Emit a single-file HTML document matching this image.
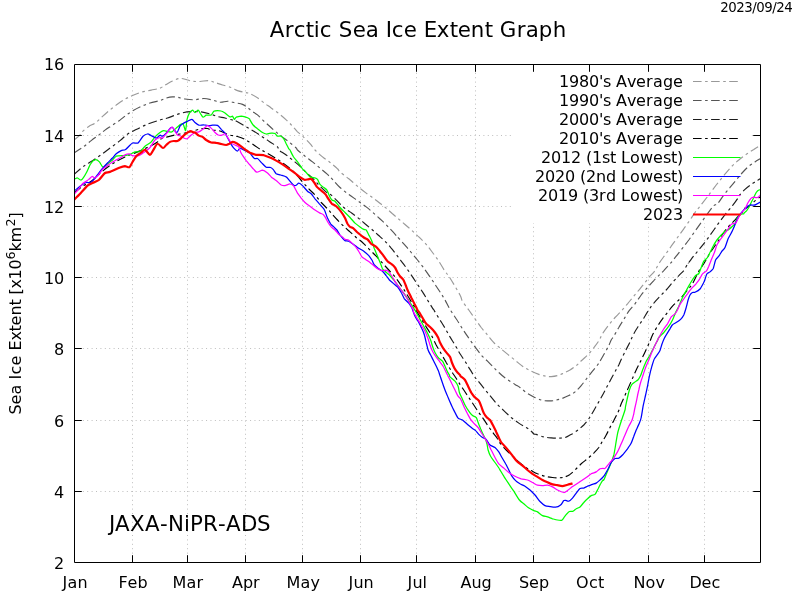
<!DOCTYPE html>
<html lang="en"><head><meta charset="utf-8"><title>Arctic Sea Ice Extent Graph</title>
<style>html,body{margin:0;padding:0;background:#fff;overflow:hidden}svg{display:block}svg{will-change:transform}text{font-family:"DejaVu Sans","Liberation Sans",sans-serif;fill:#000}</style></head><body>
<svg width="800" height="600" viewBox="0 0 800 600">
<rect width="800" height="600" fill="#fff"/>
<path d="M132.5,64V562M187.5,64V562M245.5,64V562M302.5,64V562M360.5,64V562M416.5,64V562M475.5,64V562M533.5,64V562M589.5,64V562M648.5,64V562M704.5,64V562M74,135.5H760M74,206.5H760M74,277.5H760M74,348.5H760M74,420.5H760M74,491.5H760" fill="none" stroke="#bebebe" stroke-width="1" stroke-dasharray="1 3.402"/>
<rect x="511" y="65" width="239.5" height="158" fill="#fff"/>
<clipPath id="pc"><rect x="75" y="65" width="685" height="497"/></clipPath><g clip-path="url(#pc)">
<path d="M74.0,140.0C74.9,139.3 78.1,136.9 79.4,135.6C80.7,134.3 80.3,133.5 81.9,132.0C83.5,130.5 86.6,127.9 88.8,126.4C90.9,124.9 92.9,124.7 95.0,123.2C97.1,121.8 99.2,119.5 101.2,117.6C103.3,115.7 105.0,114.1 107.5,112.0C110.0,109.9 113.3,107.2 116.2,105.1C119.2,103.0 122.3,100.8 125.0,99.2C127.7,97.7 129.8,96.7 132.5,95.5C135.2,94.3 138.1,93.2 141.2,92.2C144.4,91.3 148.1,90.8 151.2,90.1C154.4,89.4 157.5,89.0 160.0,88.1C162.5,87.1 164.2,85.6 166.2,84.4C168.3,83.2 170.2,82.0 172.5,81.0C174.8,80.0 177.6,78.6 180.0,78.4C182.4,78.2 184.8,79.3 186.9,79.8C189.0,80.2 190.3,81.0 192.5,81.2C194.7,81.5 197.3,81.6 200.0,81.5C202.7,81.4 206.2,80.4 208.8,80.6C211.2,80.8 212.7,81.8 215.0,82.5C217.3,83.2 219.8,84.2 222.5,85.0C225.2,85.8 228.8,86.6 231.2,87.5C233.8,88.4 235.2,89.8 237.5,90.6C239.8,91.4 242.9,92.0 245.0,92.5C247.1,93.0 247.9,92.7 250.0,93.6C252.1,94.5 255.0,96.1 257.5,97.8C260.0,99.4 262.7,101.9 265.0,103.6C267.3,105.3 269.0,106.3 271.2,108.0C273.5,109.7 276.2,111.6 278.8,113.6C281.2,115.6 284.0,117.8 286.2,119.9C288.5,122.0 290.6,124.1 292.5,126.1C294.4,128.1 295.8,130.1 297.5,131.8C299.2,133.4 300.4,134.1 302.5,136.1C304.6,138.1 307.9,141.3 310.0,143.6C312.1,145.9 312.9,147.8 315.0,150.0C317.1,152.2 320.0,154.8 322.5,156.9C325.0,159.0 327.5,160.5 330.0,162.5C332.5,164.5 335.8,167.2 337.5,168.8C339.2,170.3 338.1,170.2 340.0,171.9C341.9,173.6 345.8,176.4 348.8,178.8C351.7,181.1 354.6,183.9 357.5,186.2C360.4,188.6 363.3,190.9 366.2,193.1C369.2,195.3 372.1,197.2 375.0,199.4C377.9,201.6 380.8,203.9 383.8,206.2C386.7,208.6 389.6,211.2 392.5,213.8C395.4,216.2 398.3,218.8 401.2,221.2C404.2,223.8 407.4,226.5 410.0,228.8C412.6,231.0 415.1,233.6 416.6,235.0C418.1,236.4 417.1,235.3 418.8,236.9C420.4,238.5 424.0,241.8 426.2,244.4C428.5,247.0 430.4,249.7 432.5,252.5C434.6,255.3 436.7,258.1 438.8,261.2C440.8,264.4 443.1,268.5 445.0,271.2C446.9,274.0 447.5,274.0 450.0,278.0C452.5,282.0 457.9,291.1 460.0,295.0C462.1,298.9 461.0,298.8 462.5,301.2C464.0,303.8 466.7,307.1 468.8,310.0C470.8,312.9 472.9,315.8 475.0,318.8C477.1,321.7 479.2,324.8 481.2,327.5C483.3,330.2 485.6,332.7 487.5,335.0C489.4,337.3 491.2,339.8 492.5,341.2C493.8,342.7 493.8,342.6 495.0,343.8C496.2,344.9 496.5,345.1 500.0,348.0C503.5,350.9 512.2,358.0 516.0,361.0C519.8,364.0 520.2,364.6 522.5,366.2C524.8,367.9 527.3,369.2 530.0,370.6C532.7,372.0 536.0,373.5 538.8,374.4C541.5,375.3 544.2,375.9 546.2,376.2C548.3,376.6 549.4,376.7 551.2,376.6C553.1,376.5 555.4,376.2 557.5,375.6C559.6,375.0 561.7,374.0 563.8,373.1C565.8,372.2 567.9,371.2 570.0,370.0C572.1,368.8 574.6,366.9 576.2,365.6C577.9,364.3 578.5,363.4 580.0,362.0C581.5,360.6 583.3,359.1 585.0,357.5C586.7,355.9 588.3,354.4 590.0,352.5C591.7,350.6 593.4,348.3 595.0,346.2C596.6,344.2 598.1,342.1 599.4,340.0C600.6,337.9 600.9,336.2 602.5,333.8C604.1,331.2 606.7,327.7 608.8,325.0C610.8,322.3 612.9,319.8 615.0,317.5C617.1,315.2 619.2,313.5 621.2,311.2C623.3,309.0 625.4,306.2 627.5,303.8C629.6,301.2 631.7,298.8 633.8,296.2C635.8,293.8 638.1,291.0 640.0,288.8C641.9,286.5 643.3,284.6 645.0,282.5C646.7,280.4 648.3,278.2 650.0,276.2C651.7,274.3 653.5,272.7 655.0,270.6C656.5,268.5 657.1,266.4 658.8,263.8C660.4,261.1 662.9,257.9 665.0,255.0C667.1,252.1 669.2,249.2 671.2,246.2C673.3,243.3 675.4,240.4 677.5,237.5C679.6,234.6 681.7,231.7 683.8,228.8C685.8,225.8 688.1,222.7 690.0,220.0C691.9,217.3 693.3,214.8 695.0,212.5C696.7,210.2 698.1,208.7 700.0,206.2C701.9,203.8 704.9,199.9 706.4,198.0C707.9,196.1 707.1,197.2 708.8,195.0C710.4,192.8 713.8,188.2 716.2,185.0C718.8,181.8 721.2,178.6 723.8,175.6C726.2,172.6 728.8,169.5 731.2,166.9C733.8,164.3 736.2,162.1 738.8,160.0C741.2,157.9 743.8,156.2 746.2,154.4C748.8,152.6 751.5,150.9 753.8,149.4C756.0,147.9 759.0,146.2 760.0,145.6" fill="none" stroke="#999999" stroke-width="1.15" stroke-linejoin="round" stroke-dasharray="8.6 3.5 2.6 3.4"/>
<path d="M74.0,153.0C75.4,152.1 79.6,149.6 82.5,147.5C85.4,145.4 88.5,142.7 91.2,140.6C94.0,138.5 96.5,136.8 98.8,135.1C101.0,133.3 102.7,131.8 105.0,130.1C107.3,128.4 110.0,126.8 112.5,125.1C115.0,123.4 117.7,121.8 120.0,120.1C122.3,118.4 124.2,116.6 126.2,115.1C128.3,113.6 130.0,112.5 132.5,111.0C135.0,109.5 138.3,107.7 141.2,106.4C144.2,105.1 146.9,104.0 150.0,103.0C153.1,102.0 157.3,101.4 160.0,100.6C162.7,99.8 164.2,98.7 166.2,98.1C168.3,97.5 170.6,97.0 172.5,96.9C174.4,96.8 175.4,96.9 177.5,97.2C179.6,97.6 182.3,98.6 185.0,99.0C187.7,99.4 190.6,99.8 193.8,99.8C196.9,99.7 200.6,98.5 203.8,98.5C206.9,98.5 209.8,99.4 212.5,100.0C215.2,100.6 217.5,102.0 220.0,102.2C222.5,102.5 225.0,101.2 227.5,101.2C230.0,101.3 232.5,102.2 235.0,102.8C237.5,103.3 240.4,103.6 242.5,104.4C244.6,105.2 245.9,106.4 247.5,107.5C249.1,108.6 250.2,109.9 251.9,111.1C253.6,112.3 255.7,113.4 257.5,114.9C259.3,116.4 260.6,118.1 262.5,119.9C264.4,121.7 266.7,123.6 268.8,125.5C270.8,127.4 272.9,129.3 275.0,131.1C277.1,132.9 279.0,134.3 281.2,136.1C283.5,137.9 286.2,139.8 288.8,141.8C291.2,143.7 294.8,146.6 296.2,148.0C297.7,149.4 296.0,148.6 297.5,150.0C299.0,151.4 302.5,154.3 305.0,156.2C307.5,158.2 310.0,159.9 312.5,161.9C315.0,163.9 317.5,166.0 320.0,168.1C322.5,170.2 325.4,172.5 327.5,174.4C329.6,176.3 330.4,177.2 332.5,179.4C334.6,181.6 337.3,185.0 340.0,187.5C342.7,190.0 345.8,192.2 348.8,194.4C351.7,196.6 354.6,198.5 357.5,200.6C360.4,202.7 363.3,204.6 366.2,206.9C369.2,209.2 372.3,212.0 375.0,214.4C377.7,216.8 380.0,218.9 382.5,221.2C385.0,223.6 387.7,226.4 390.0,228.8C392.3,231.1 395.1,234.3 396.2,235.6C397.4,236.8 395.6,234.9 396.9,236.2C398.1,237.6 401.4,241.0 403.8,243.8C406.1,246.5 409.0,249.8 411.2,252.5C413.5,255.2 415.4,257.4 417.5,260.0C419.6,262.6 421.7,265.3 423.8,268.1C425.8,270.9 427.9,273.9 430.0,276.9C432.1,279.9 434.4,283.4 436.2,286.2C438.1,289.1 439.8,291.5 441.2,293.8C442.7,296.0 443.5,297.4 445.0,300.0C446.5,302.6 448.1,306.3 450.0,309.4C451.9,312.5 454.2,315.5 456.2,318.8C458.3,322.0 460.4,325.5 462.5,328.8C464.6,332.0 466.7,335.1 468.8,338.1C470.8,341.1 472.9,344.1 475.0,346.9C477.1,349.7 479.2,352.6 481.2,355.0C483.3,357.4 485.4,359.2 487.5,361.2C489.6,363.3 491.9,365.6 493.8,367.5C495.6,369.4 496.7,370.6 498.8,372.5C500.8,374.4 503.5,376.8 506.2,378.8C509.0,380.7 512.7,382.9 515.0,384.4C517.3,385.9 518.1,386.1 520.0,387.5C521.9,388.9 524.0,390.9 526.2,392.5C528.5,394.1 531.2,395.6 533.8,396.9C536.2,398.1 539.0,399.3 541.2,400.0C543.5,400.7 545.4,400.8 547.5,400.9C549.6,401.0 551.5,401.0 553.8,400.6C556.0,400.2 558.8,399.6 561.2,398.8C563.8,397.9 566.5,396.7 568.8,395.6C571.0,394.5 572.9,393.6 575.0,391.9C577.1,390.2 579.2,388.0 581.2,385.6C583.3,383.2 585.6,379.9 587.5,377.5C589.4,375.1 590.8,373.3 592.5,371.2C594.2,369.2 596.2,366.7 597.5,365.0C598.8,363.3 598.8,363.3 600.0,361.2C601.2,359.2 603.5,355.1 605.0,352.5C606.5,349.9 607.7,347.7 608.8,345.6C609.8,343.5 610.4,341.6 611.2,340.0C612.1,338.4 612.5,338.3 613.8,336.2C615.0,334.2 617.1,330.3 618.8,327.5C620.4,324.7 622.1,322.1 623.8,319.4C625.4,316.7 626.9,313.9 628.8,311.2C630.6,308.6 632.9,306.5 635.0,303.8C637.1,301.0 639.2,297.7 641.2,295.0C643.3,292.3 645.4,289.9 647.5,287.5C649.6,285.1 651.7,282.8 653.8,280.6C655.8,278.4 658.3,276.1 660.0,274.4C661.7,272.7 662.1,272.4 663.8,270.6C665.4,268.8 667.9,266.1 670.0,263.8C672.1,261.4 674.2,258.9 676.2,256.2C678.3,253.6 680.4,250.8 682.5,248.1C684.6,245.4 686.7,242.8 688.8,240.0C690.8,237.2 692.9,234.2 695.0,231.2C697.1,228.3 699.2,225.4 701.2,222.5C703.3,219.6 705.4,216.6 707.5,213.8C709.6,210.9 712.1,207.3 713.8,205.6C715.4,203.9 715.8,205.5 717.5,203.8C719.2,202.0 721.7,197.7 723.8,195.0C725.8,192.3 727.9,190.0 730.0,187.5C732.1,185.0 734.2,182.5 736.2,180.0C738.3,177.5 740.4,174.8 742.5,172.5C744.6,170.2 746.7,168.0 748.8,166.2C750.8,164.5 753.1,163.2 755.0,161.9C756.9,160.7 759.2,159.3 760.0,158.8" fill="none" stroke="#555555" stroke-width="1.15" stroke-linejoin="round" stroke-dasharray="8.6 3.5 2.6 3.4"/>
<path d="M74.0,174.4C75.6,173.0 80.2,168.8 83.8,166.2C87.2,163.7 91.0,161.7 95.0,159.0C99.0,156.3 103.3,153.1 107.5,150.0C111.7,146.9 116.8,143.2 120.0,140.6C123.2,138.0 124.8,136.0 126.9,134.5C129.0,133.0 130.1,132.7 132.5,131.4C134.9,130.2 138.3,128.4 141.2,127.0C144.2,125.6 146.9,124.4 150.0,123.2C153.1,122.1 157.1,120.9 160.0,120.0C162.9,119.1 165.0,118.8 167.5,118.0C170.0,117.2 172.5,116.1 175.0,115.2C177.5,114.4 179.8,113.4 182.5,112.8C185.2,112.1 188.1,111.7 191.2,111.6C194.4,111.5 198.1,111.5 201.2,111.9C204.4,112.3 207.3,113.2 210.0,114.0C212.7,114.8 215.0,115.8 217.5,116.5C220.0,117.2 222.5,117.4 225.0,118.0C227.5,118.6 230.8,119.6 232.5,120.0C234.2,120.4 232.9,119.5 235.0,120.5C237.1,121.5 241.9,124.5 245.0,126.2C248.1,128.0 250.8,129.5 253.8,131.2C256.7,133.0 259.8,135.1 262.5,136.9C265.2,138.7 267.5,140.2 270.0,141.9C272.5,143.6 276.0,145.6 277.5,146.9C279.0,148.2 277.3,148.7 278.8,150.0C280.2,151.3 284.0,153.3 286.2,155.0C288.5,156.7 290.2,158.1 292.5,160.0C294.8,161.9 297.7,164.2 300.0,166.2C302.3,168.3 304.0,170.3 306.2,172.5C308.5,174.7 311.5,177.1 313.8,179.4C316.0,181.7 317.7,184.0 320.0,186.2C322.3,188.5 325.6,191.6 327.5,193.1C329.4,194.6 329.6,193.6 331.2,195.0C332.9,196.4 335.4,199.2 337.5,201.2C339.6,203.3 341.7,205.7 343.8,207.5C345.8,209.3 347.7,210.2 350.0,211.9C352.3,213.6 355.0,215.5 357.5,217.5C360.0,219.5 362.5,221.7 365.0,223.8C367.5,225.8 370.3,228.1 372.5,230.0C374.7,231.9 376.0,233.1 378.1,235.0C380.2,236.9 382.8,239.1 385.0,241.2C387.2,243.4 389.2,245.6 391.2,248.1C393.3,250.6 395.4,253.5 397.5,256.2C399.6,259.0 401.7,261.6 403.8,264.4C405.8,267.2 407.9,270.1 410.0,273.1C412.1,276.1 414.2,279.4 416.2,282.5C418.3,285.6 420.6,289.0 422.5,291.9C424.4,294.8 425.8,297.3 427.5,300.0C429.2,302.7 431.4,306.4 432.5,308.1C433.6,309.8 433.6,309.4 434.0,310.0C434.4,310.6 434.0,310.2 435.0,311.9C436.0,313.6 438.3,317.3 440.0,320.0C441.7,322.7 443.3,325.3 445.0,328.1C446.7,330.9 448.3,334.1 450.0,336.9C451.7,339.7 453.3,342.2 455.0,345.0C456.7,347.8 458.3,351.0 460.0,353.8C461.7,356.5 463.3,358.6 465.0,361.2C466.7,363.9 468.6,367.2 470.0,369.4C471.4,371.6 472.2,373.0 473.1,374.4C474.0,375.8 474.7,377.1 475.4,378.0C476.1,378.9 476.1,378.3 477.5,380.0C478.9,381.7 481.7,385.5 483.8,388.1C485.8,390.7 487.9,393.1 490.0,395.6C492.1,398.1 494.0,400.6 496.2,403.1C498.5,405.6 501.2,408.2 503.8,410.6C506.2,413.0 508.8,415.4 511.2,417.5C513.8,419.6 516.5,421.5 518.8,423.1C521.0,424.7 523.1,425.8 525.0,426.9C526.9,428.0 528.5,428.8 530.0,430.0C531.5,431.2 533.0,433.3 534.0,434.0C535.0,434.7 534.6,433.9 536.2,434.4C537.9,434.9 541.2,436.3 543.8,436.9C546.2,437.5 548.8,437.7 551.2,437.9C553.8,438.1 556.5,438.2 558.8,438.1C561.0,438.0 563.1,438.0 565.0,437.5C566.9,437.0 568.8,435.6 570.0,435.0C571.2,434.4 571.0,434.7 572.5,433.8C574.0,432.8 576.9,430.9 578.8,429.4C580.6,427.9 582.3,426.5 583.8,425.0C585.2,423.5 586.2,422.3 587.5,420.6C588.8,418.9 589.8,417.4 591.2,415.0C592.7,412.6 594.6,409.2 596.2,406.2C597.9,403.3 599.6,400.5 601.2,397.5C602.9,394.5 604.6,391.2 606.2,388.1C607.9,385.0 609.6,381.9 611.2,378.8C612.9,375.6 615.0,371.7 616.2,369.4C617.5,367.1 617.9,366.7 618.8,365.0C619.6,363.3 620.0,362.0 621.2,359.4C622.5,356.8 624.8,352.3 626.2,349.4C627.7,346.5 628.8,344.5 630.0,341.9C631.2,339.3 632.3,336.5 633.8,333.8C635.2,331.0 637.1,328.2 638.8,325.6C640.4,323.0 642.1,320.7 643.8,318.1C645.4,315.5 647.1,312.5 648.8,310.0C650.4,307.5 651.9,305.4 653.8,303.1C655.6,300.8 657.9,298.4 660.0,296.2C662.1,294.1 664.2,292.3 666.2,290.0C668.3,287.7 670.4,284.9 672.5,282.5C674.6,280.1 676.9,277.6 678.8,275.6C680.6,273.6 682.2,272.7 683.8,270.6C685.3,268.5 687.2,264.4 688.0,263.0C688.8,261.6 687.6,263.9 688.8,262.5C689.9,261.1 692.9,257.0 695.0,254.4C697.1,251.8 699.2,249.5 701.2,246.9C703.3,244.3 705.4,241.6 707.5,238.8C709.6,235.9 711.7,232.9 713.8,230.0C715.8,227.1 717.9,224.1 720.0,221.2C722.1,218.4 724.2,215.7 726.2,213.1C728.3,210.5 730.5,208.1 732.5,205.6C734.5,203.1 737.0,199.6 738.0,198.0C739.0,196.4 737.6,197.7 738.8,196.2C739.9,194.8 742.9,191.4 745.0,189.4C747.1,187.4 749.4,185.8 751.2,184.4C753.1,183.0 754.8,182.2 756.2,181.2C757.7,180.3 759.4,179.2 760.0,178.8" fill="none" stroke="#1c1c1c" stroke-width="1.15" stroke-linejoin="round" stroke-dasharray="8.6 3.5 2.6 3.4"/>
<path d="M74.0,193.0C75.4,191.9 79.6,188.2 82.5,186.2C85.4,184.3 87.9,183.8 91.2,181.2C94.6,178.8 98.8,174.3 102.5,171.2C106.2,168.2 110.0,165.4 113.8,163.0C117.5,160.6 121.0,158.8 125.0,156.9C129.0,155.1 133.3,153.7 137.5,151.9C141.7,150.1 146.7,147.9 150.0,146.2C153.3,144.6 155.8,143.0 157.5,141.9C159.2,140.8 158.3,140.2 160.0,139.4C161.7,138.6 165.0,137.6 167.5,136.9C170.0,136.2 172.1,135.7 175.0,135.0C177.9,134.3 182.1,133.6 185.0,133.0C187.9,132.4 189.8,132.0 192.5,131.2C195.2,130.5 198.8,129.2 201.2,128.8C203.8,128.3 205.8,128.3 207.5,128.5C209.2,128.7 209.2,129.6 211.2,130.0C213.3,130.4 217.1,130.2 220.0,131.0C222.9,131.8 225.8,133.8 228.8,134.8C231.7,135.7 234.8,135.7 237.5,136.5C240.2,137.3 242.3,138.0 245.0,139.4C247.7,140.8 251.0,143.2 253.8,145.0C256.5,146.8 259.6,149.0 261.2,150.0C262.9,151.0 261.9,150.2 263.8,151.2C265.6,152.3 269.6,154.5 272.5,156.2C275.4,158.0 278.5,160.0 281.2,161.9C284.0,163.8 286.2,165.4 288.8,167.5C291.2,169.6 294.0,172.0 296.2,174.4C298.5,176.8 300.4,179.5 302.5,181.9C304.6,184.3 306.7,186.6 308.8,188.8C310.8,190.9 312.9,192.7 315.0,195.0C317.1,197.3 319.2,200.2 321.2,202.5C323.3,204.8 325.8,207.0 327.5,208.8C329.2,210.5 329.6,211.2 331.2,213.1C332.9,215.0 335.4,217.8 337.5,220.0C339.6,222.2 341.7,224.3 343.8,226.2C345.8,228.2 347.9,230.0 350.0,231.9C352.1,233.8 354.2,235.7 356.2,237.5C358.3,239.3 360.4,240.6 362.5,242.5C364.6,244.4 366.5,246.5 368.8,248.8C371.0,251.0 374.0,253.9 376.2,256.2C378.5,258.6 380.4,260.8 382.5,263.1C384.6,265.4 386.7,267.7 388.8,270.0C390.8,272.3 393.1,274.6 395.0,276.9C396.9,279.2 398.3,281.4 400.0,283.8C401.7,286.1 403.5,289.0 405.0,291.2C406.5,293.5 407.5,295.4 408.8,297.5C410.0,299.6 411.4,301.9 412.5,303.8C413.6,305.6 415.0,307.6 415.6,308.8C416.2,309.9 415.3,308.9 416.2,310.6C417.2,312.3 419.6,316.0 421.2,318.8C422.9,321.5 424.6,324.2 426.2,326.9C427.9,329.6 429.6,332.0 431.2,335.0C432.9,338.0 434.6,341.9 436.2,345.0C437.9,348.1 439.6,350.8 441.2,353.8C442.9,356.7 444.8,360.0 446.2,362.5C447.7,365.0 448.9,366.9 450.0,368.8C451.1,370.6 452.1,372.2 453.1,373.8C454.1,375.3 455.1,376.5 456.0,378.0C456.9,379.5 457.5,380.5 458.8,382.5C460.0,384.5 462.1,387.5 463.8,390.0C465.4,392.5 467.1,395.0 468.8,397.5C470.4,400.0 472.1,402.5 473.8,405.0C475.4,407.5 477.1,410.1 478.8,412.5C480.4,414.9 482.1,417.0 483.8,419.4C485.4,421.8 487.1,424.5 488.8,426.9C490.4,429.3 492.3,431.8 493.8,433.8C495.2,435.7 496.5,437.2 497.5,438.8C498.5,440.3 498.5,441.2 500.0,443.1C501.5,445.0 504.2,447.8 506.2,450.0C508.3,452.2 510.4,454.3 512.5,456.2C514.6,458.2 516.7,460.1 518.8,461.9C520.8,463.7 522.9,465.4 525.0,466.9C527.1,468.3 529.2,469.5 531.2,470.6C533.3,471.7 535.2,472.8 537.5,473.8C539.8,474.7 542.5,475.6 545.0,476.2C547.5,476.9 550.0,477.2 552.5,477.5C555.0,477.8 557.9,477.9 560.0,477.8C562.1,477.6 563.3,477.5 565.0,476.9C566.7,476.3 568.3,475.5 570.0,474.4C571.7,473.2 573.1,471.8 575.0,470.0C576.9,468.2 579.2,465.6 581.2,463.8C583.3,461.9 585.4,460.5 587.5,458.8C589.6,457.0 591.9,455.0 593.8,453.1C595.6,451.2 597.3,449.5 598.8,447.5C600.2,445.5 601.2,443.3 602.5,441.2C603.8,439.2 605.0,437.3 606.2,435.0C607.5,432.7 608.8,429.9 610.0,427.5C611.2,425.1 612.6,422.8 613.8,420.6C614.9,418.4 616.0,416.2 616.9,414.4C617.8,412.6 618.3,411.8 619.0,410.0C619.7,408.2 620.0,406.7 621.2,403.8C622.5,400.8 624.6,396.2 626.2,392.5C627.9,388.8 629.6,385.0 631.2,381.2C632.9,377.5 634.6,373.5 636.2,370.0C637.9,366.5 639.6,363.4 641.2,360.0C642.9,356.6 644.8,352.5 646.2,349.4C647.7,346.3 649.0,343.6 650.0,341.2C651.0,338.9 651.2,337.5 652.5,335.0C653.8,332.5 655.8,329.0 657.5,326.2C659.2,323.5 660.8,321.0 662.5,318.8C664.2,316.5 665.8,314.6 667.5,312.5C669.2,310.4 670.8,308.1 672.5,306.2C674.2,304.4 675.8,302.9 677.5,301.2C679.2,299.6 680.8,298.1 682.5,296.2C684.2,294.4 685.8,292.1 687.5,290.0C689.2,287.9 690.6,286.9 692.5,283.8C694.4,280.6 696.9,274.6 698.8,271.2C700.6,267.9 702.1,266.5 703.8,263.8C705.4,261.0 707.1,257.7 708.8,255.0C710.4,252.3 712.1,250.0 713.8,247.5C715.4,245.0 717.1,242.5 718.8,240.0C720.4,237.5 722.1,234.8 723.8,232.5C725.4,230.2 727.1,228.1 728.8,226.2C730.4,224.4 732.1,223.0 733.8,221.2C735.4,219.5 737.1,217.3 738.8,215.6C740.4,213.9 742.7,212.5 743.8,211.2C744.8,210.0 744.3,208.7 745.0,208.0C745.7,207.3 746.5,208.0 748.0,207.0C749.5,206.0 751.8,203.6 753.8,201.9C755.8,200.2 759.0,197.7 760.0,196.9" fill="none" stroke="#000000" stroke-width="1.15" stroke-linejoin="round" stroke-dasharray="8.6 3.5 2.6 3.4"/>
<path d="M74.0,179.4C74.4,179.2 76.7,177.9 77.5,178.0C78.3,178.1 80.2,180.6 81.2,180.0C82.3,179.4 85.2,174.9 86.2,173.0C87.3,171.1 89.6,165.3 90.6,163.8C91.6,162.2 94.0,160.0 95.0,159.8C96.0,159.5 98.5,161.0 99.4,161.9C100.3,162.8 102.1,167.0 103.0,167.2C103.9,167.5 106.4,164.6 107.5,163.8C108.6,162.9 111.5,160.9 112.5,160.0C113.5,159.1 114.8,156.8 116.2,156.2C117.7,155.7 123.4,155.8 125.0,155.6C126.6,155.4 128.8,154.8 130.0,154.4C131.2,154.0 133.8,152.2 135.0,151.9C136.2,151.6 138.8,152.2 140.0,151.5C141.2,150.8 143.8,147.3 145.0,146.2C146.2,145.2 149.4,143.6 150.6,142.5C151.8,141.4 153.9,138.1 155.0,136.9C156.1,135.7 159.0,133.2 160.0,132.5C161.0,131.8 162.9,130.7 163.8,130.6C164.6,130.5 166.5,131.3 167.5,131.5C168.5,131.7 170.9,132.3 171.9,131.9C172.9,131.5 175.2,129.0 176.2,128.1C177.3,127.2 179.8,124.9 180.6,124.4C181.4,123.9 182.5,123.0 183.1,123.8C183.7,124.5 185.2,131.0 185.6,130.6C186.0,130.2 186.5,122.0 186.9,120.0C187.3,118.0 188.7,114.2 189.4,113.1C190.1,112.0 191.8,110.3 192.5,110.2C193.2,110.2 194.3,112.5 195.0,112.5C195.7,112.5 197.4,110.1 198.1,110.2C198.8,110.4 200.0,112.9 200.6,113.8C201.2,114.6 202.4,117.1 203.1,117.2C203.8,117.4 205.3,115.5 206.2,115.2C207.2,115.0 210.4,115.5 211.2,115.0C212.1,114.5 213.0,111.8 213.8,111.2C214.5,110.7 216.6,110.6 217.5,110.6C218.4,110.6 220.4,110.7 221.2,111.0C222.1,111.3 224.0,112.4 225.0,113.1C226.0,113.8 229.1,116.5 230.0,116.9C230.9,117.3 232.0,116.0 232.5,116.2C233.0,116.5 234.0,119.3 234.4,119.4C234.8,119.5 235.5,117.6 236.2,117.2C237.0,116.9 240.2,116.3 241.2,116.2C242.3,116.2 244.0,116.6 245.0,116.9C246.0,117.2 248.8,118.4 249.4,118.8C250.0,119.1 249.6,119.3 250.0,120.0C250.4,120.7 252.2,124.0 253.1,125.0C254.0,126.0 256.4,127.9 257.5,128.8C258.6,129.6 261.5,131.9 262.5,132.5C263.5,133.1 265.2,133.9 266.2,134.0C267.3,134.1 270.2,133.2 271.2,133.1C272.3,133.0 274.3,133.1 275.0,133.5C275.7,133.9 276.8,136.0 277.5,136.2C278.2,136.5 279.9,135.7 280.6,136.0C281.3,136.3 283.1,137.8 283.8,138.8C284.4,139.7 285.7,142.6 286.2,143.8C286.8,144.9 288.3,148.0 288.8,148.8C289.2,149.5 289.5,149.1 290.0,150.0C290.5,150.9 292.2,154.8 293.1,156.2C294.0,157.7 297.0,161.0 298.1,162.5C299.2,164.0 301.5,167.6 302.5,168.8C303.5,169.9 305.4,171.5 306.2,172.5C307.1,173.5 309.0,176.3 310.0,176.9C311.0,177.5 314.1,177.5 315.0,177.8C315.9,178.0 316.9,178.6 317.5,179.4C318.1,180.2 319.3,183.5 320.0,184.4C320.7,185.3 322.9,186.8 323.8,187.5C324.6,188.2 326.3,189.2 326.9,190.0C327.5,190.8 328.2,193.2 328.8,194.4C329.3,195.6 331.2,199.2 331.9,200.0C332.6,200.8 334.1,200.4 335.0,201.2C335.9,202.1 338.8,206.2 340.0,207.5C341.2,208.8 343.8,211.3 345.0,212.5C346.2,213.7 348.8,216.3 350.0,217.5C351.2,218.7 353.8,222.0 355.0,223.1C356.2,224.2 359.0,226.2 360.0,226.9C361.0,227.6 363.0,229.0 363.8,229.4C364.5,229.8 365.7,229.3 366.2,230.0C366.8,230.7 368.4,234.3 368.8,235.0C369.1,235.7 369.0,235.3 369.4,236.0C369.8,236.7 371.3,239.8 371.9,241.2C372.5,242.7 373.7,247.0 374.4,248.8C375.1,250.5 376.8,254.5 377.5,256.2C378.2,258.0 380.0,262.3 380.6,263.8C381.2,265.2 382.0,267.9 382.5,268.8C383.0,269.6 384.2,270.5 385.0,271.2C385.8,272.0 388.4,274.0 389.4,275.0C390.4,276.0 392.8,278.8 393.8,280.0C394.7,281.2 396.6,283.8 397.5,285.0C398.4,286.2 400.4,288.8 401.2,290.0C402.1,291.2 404.1,293.8 405.0,295.0C405.9,296.2 407.9,299.3 408.8,300.6C409.6,301.9 411.8,305.2 412.5,306.2C413.2,307.3 414.0,308.7 414.4,309.4C414.8,310.1 415.6,311.3 416.2,312.5C416.9,313.7 419.1,317.8 420.0,319.4C420.9,321.0 422.9,324.7 423.8,326.2C424.6,327.8 426.7,331.5 427.5,333.1C428.3,334.7 430.0,338.5 430.6,340.0C431.2,341.5 432.0,344.8 432.5,346.2C433.0,347.7 434.3,351.2 435.0,352.5C435.7,353.8 437.2,356.5 438.1,357.5C439.0,358.5 441.7,360.2 442.5,361.2C443.3,362.3 444.4,365.0 445.0,366.2C445.6,367.5 447.0,370.9 447.5,371.9C448.0,372.9 449.1,374.4 449.4,375.0C449.7,375.6 449.3,376.2 450.0,376.9C450.7,377.6 454.1,380.2 455.0,381.2C455.9,382.3 457.6,384.9 458.1,386.2C458.6,387.6 459.0,391.1 459.4,392.5C459.8,393.9 461.2,396.6 461.9,398.1C462.6,399.6 464.2,403.5 465.0,405.0C465.8,406.5 467.9,410.0 468.8,411.2C469.6,412.5 471.6,414.9 472.5,415.6C473.4,416.3 475.6,416.7 476.2,417.5C476.9,418.3 477.6,421.2 478.1,422.5C478.6,423.8 480.0,427.4 480.6,428.8C481.2,430.1 482.5,433.2 483.1,434.4C483.7,435.6 485.1,438.3 485.6,439.4C486.1,440.5 486.7,442.8 487.0,444.0C487.3,445.2 487.7,448.6 488.1,450.0C488.5,451.4 489.8,454.8 490.6,456.2C491.4,457.7 494.0,461.0 495.0,462.5C496.0,464.0 498.4,467.1 499.4,468.8C500.4,470.4 502.7,474.5 503.8,476.2C504.8,478.0 507.6,482.0 508.8,483.8C509.9,485.5 512.5,489.4 513.8,491.2C515.0,493.1 518.2,498.5 519.4,500.0C520.6,501.5 522.7,502.9 523.8,503.8C524.8,504.6 526.9,506.7 528.1,507.5C529.3,508.3 532.7,510.1 533.8,510.6C534.8,511.1 536.5,511.3 537.5,511.9C538.5,512.5 541.3,515.0 542.5,515.6C543.7,516.2 546.3,516.5 547.5,516.9C548.7,517.3 551.3,518.4 552.5,518.8C553.7,519.1 556.4,519.8 557.5,520.0C558.6,520.2 561.1,520.6 561.9,520.2C562.7,519.9 563.8,517.7 564.4,516.9C565.0,516.1 566.3,514.4 566.9,513.8C567.5,513.1 568.7,511.8 569.4,511.5C570.1,511.2 572.3,511.6 573.1,511.2C573.9,510.9 575.4,509.3 576.2,508.8C577.1,508.2 579.1,507.6 580.0,506.9C580.9,506.2 582.9,503.5 583.8,502.5C584.6,501.5 586.6,499.6 587.5,498.8C588.4,497.9 590.4,496.1 591.2,495.6C592.1,495.1 594.2,495.2 595.0,494.4C595.8,493.6 597.4,490.0 598.1,488.8C598.8,487.5 600.0,484.8 600.6,483.8C601.2,482.7 602.7,480.4 603.1,480.0C603.5,479.6 603.2,481.0 603.8,480.0C604.3,479.0 606.6,473.3 607.5,471.2C608.4,469.2 610.5,464.4 611.2,462.5C612.0,460.6 613.2,457.0 613.8,455.0C614.3,453.0 615.2,447.5 615.6,445.0C616.0,442.5 617.0,436.1 617.5,433.8C618.0,431.4 619.4,426.9 620.0,425.0C620.6,423.1 621.9,419.2 622.5,417.5C623.1,415.8 624.6,411.3 625.0,410.0C625.4,408.7 625.3,407.7 625.6,406.2C625.9,404.8 627.1,399.4 627.5,397.5C627.9,395.6 628.9,391.5 629.4,390.0C629.9,388.5 631.2,385.3 631.9,384.4C632.6,383.5 634.3,382.4 635.0,381.9C635.7,381.4 637.4,380.5 638.1,379.8C638.8,379.0 640.0,376.9 640.6,375.6C641.2,374.3 642.4,370.4 643.1,368.8C643.8,367.1 645.4,362.9 646.2,361.2C647.1,359.6 649.1,356.6 650.0,355.0C650.9,353.4 652.9,349.2 653.8,347.5C654.6,345.8 656.9,341.8 657.5,340.6C658.1,339.4 658.0,338.4 658.8,337.5C659.5,336.6 662.6,333.8 663.8,332.5C664.9,331.2 667.7,327.7 668.8,326.2C669.8,324.8 671.7,321.6 672.5,320.0C673.3,318.4 674.9,314.1 675.6,312.5C676.3,310.9 677.9,308.0 678.8,306.2C679.6,304.5 681.6,299.3 682.5,297.5C683.4,295.7 685.4,292.2 686.2,290.6C687.1,289.0 689.0,285.4 690.0,283.8C691.0,282.1 694.1,277.4 695.0,276.2C695.9,275.1 697.6,274.3 698.0,274.0C698.4,273.7 698.4,274.5 698.8,273.8C699.1,273.0 700.7,269.0 701.2,267.5C701.8,266.0 703.0,262.4 703.8,261.2C704.5,260.1 706.8,258.5 707.5,257.5C708.2,256.5 709.3,253.8 710.0,252.5C710.7,251.2 712.3,247.7 713.1,246.2C713.9,244.8 715.9,241.3 716.9,240.0C717.9,238.7 720.3,236.0 721.2,235.0C722.2,234.0 724.1,231.9 725.0,231.2C725.9,230.6 727.9,230.0 728.8,229.4C729.6,228.8 731.8,226.9 732.5,226.2C733.2,225.6 734.4,224.8 735.0,223.8C735.6,222.7 736.8,218.6 737.5,217.5C738.2,216.4 739.9,214.8 740.6,214.4C741.3,214.0 743.3,214.0 743.8,213.8C744.2,213.5 744.1,212.9 744.4,212.6C744.7,212.3 745.7,211.8 746.2,211.2C746.8,210.7 748.2,208.5 748.8,207.5C749.3,206.5 750.7,203.7 751.2,202.5C751.8,201.3 753.2,198.7 753.8,197.5C754.3,196.3 755.7,193.4 756.2,192.5C756.8,191.6 758.2,190.3 758.8,190.0C759.3,189.7 760.4,189.8 760.6,189.8" fill="none" stroke="#00ff00" stroke-width="1.25" stroke-linejoin="round"/>
<path d="M74.0,191.2C74.7,190.7 78.6,187.3 80.0,186.2C81.4,185.2 85.0,182.9 86.2,182.5C87.5,182.1 89.6,183.0 90.6,182.5C91.6,182.0 93.8,179.5 95.0,178.0C96.2,176.5 99.8,171.8 101.2,170.0C102.7,168.2 106.2,164.4 107.5,163.0C108.8,161.6 111.5,159.1 112.5,158.0C113.5,156.9 115.2,154.6 116.2,153.8C117.3,152.9 120.2,151.1 121.2,150.6C122.3,150.1 124.3,150.3 125.6,149.4C126.9,148.5 131.1,143.7 132.5,143.0C133.9,142.3 136.8,143.8 138.0,143.0C139.2,142.2 141.9,137.3 143.0,136.2C144.1,135.2 146.5,134.1 147.5,134.0C148.5,133.9 150.2,135.1 151.2,135.6C152.3,136.1 155.2,138.0 156.2,138.0C157.3,138.0 159.3,135.5 160.0,135.2C160.7,135.0 161.8,136.5 162.5,136.2C163.2,136.0 165.4,134.0 166.2,133.1C167.1,132.2 169.3,129.2 170.0,128.5C170.7,127.8 171.7,127.0 172.5,127.5C173.3,128.0 176.0,132.6 176.9,132.5C177.8,132.4 179.3,127.3 180.0,126.2C180.7,125.2 182.3,124.1 183.1,123.5C183.9,122.9 185.9,122.0 186.9,121.5C187.9,121.0 191.0,119.3 191.9,119.4C192.8,119.5 194.2,121.8 195.0,122.5C195.8,123.2 197.7,125.0 198.8,125.2C199.8,125.5 202.6,124.7 203.8,124.8C204.9,124.8 207.7,125.5 208.8,125.6C209.8,125.7 211.5,125.3 212.5,125.2C213.5,125.2 216.5,124.9 217.5,125.4C218.5,125.9 220.4,128.5 221.2,129.4C222.1,130.3 224.2,132.0 225.0,133.1C225.8,134.2 227.4,137.4 228.1,138.8C228.8,140.1 230.6,143.3 231.2,144.4C231.9,145.5 233.0,147.3 233.8,148.1C234.5,148.9 236.8,151.0 237.5,151.0C238.2,151.0 239.3,148.2 240.0,148.1C240.7,148.0 242.7,149.5 243.8,150.0C244.8,150.5 248.0,152.1 248.8,152.5C249.5,152.9 249.3,152.4 250.0,153.1C250.7,153.8 253.5,157.9 254.4,158.5C255.3,159.1 256.6,158.0 257.5,158.5C258.4,159.0 260.9,162.1 261.9,163.1C262.9,164.1 265.2,166.7 266.2,167.2C267.3,167.8 269.8,167.2 270.6,167.5C271.4,167.8 272.4,168.7 273.1,169.4C273.8,170.1 275.4,173.1 276.2,173.8C277.1,174.4 279.4,174.6 280.6,175.0C281.8,175.4 285.2,176.2 286.2,176.9C287.3,177.6 289.1,180.3 290.0,181.2C290.9,182.2 293.0,184.8 293.8,185.2C294.5,185.7 295.7,185.5 296.2,185.2C296.8,185.0 298.0,183.1 298.8,183.1C299.5,183.1 301.5,184.6 302.5,185.6C303.5,186.6 306.5,190.3 307.5,191.2C308.5,192.2 310.4,192.9 311.2,193.8C312.1,194.6 314.0,197.6 315.0,198.8C316.0,199.9 318.4,202.6 319.4,203.8C320.4,204.9 323.1,207.9 323.8,208.8C324.4,209.6 324.6,210.2 325.0,211.2C325.4,212.3 326.8,216.6 327.5,218.1C328.2,219.6 329.9,222.7 330.6,223.8C331.3,224.8 333.0,226.2 333.8,226.9C334.5,227.6 336.2,229.1 336.9,230.0C337.6,230.9 339.3,234.0 340.0,235.0C340.7,236.0 342.5,238.1 343.1,238.8C343.7,239.4 344.3,240.3 345.0,240.6C345.7,240.9 347.9,240.9 348.8,241.2C349.6,241.6 351.5,243.0 352.5,243.8C353.5,244.5 356.2,246.6 357.5,247.5C358.8,248.4 362.4,250.3 363.8,251.2C365.1,252.2 367.8,254.6 368.8,255.6C369.7,256.6 371.2,258.9 371.9,260.0C372.6,261.1 373.6,264.0 374.4,265.0C375.2,266.0 377.8,268.0 378.8,268.8C379.7,269.5 381.6,270.5 382.5,271.2C383.4,272.0 385.4,274.6 386.2,275.6C387.1,276.6 388.6,279.1 389.4,280.0C390.2,280.9 392.2,282.3 393.1,283.1C394.0,283.9 396.5,285.8 397.5,286.9C398.5,288.0 400.4,291.1 401.2,292.5C402.1,293.9 403.5,297.5 404.4,298.8C405.3,300.0 407.9,302.0 408.8,303.1C409.6,304.2 411.2,306.6 411.9,308.1C412.6,309.6 414.2,314.6 415.0,316.2C415.8,317.9 417.9,321.0 418.8,322.5C419.6,324.0 421.2,327.3 421.9,328.8C422.6,330.2 423.9,333.4 424.4,335.0C424.9,336.6 425.8,340.8 426.2,342.5C426.7,344.2 427.6,348.5 428.1,350.0C428.6,351.5 429.9,353.7 430.6,355.0C431.3,356.3 433.0,359.8 433.8,361.2C434.5,362.7 436.3,366.3 436.9,367.5C437.5,368.7 438.4,371.0 438.8,371.9C439.1,372.8 439.4,373.9 439.8,375.0C440.1,376.1 441.3,379.5 441.9,381.2C442.5,383.0 444.3,388.1 445.0,390.0C445.7,391.9 447.3,395.6 448.1,397.5C448.9,399.4 451.1,404.5 451.9,406.2C452.7,408.0 454.3,411.1 455.0,412.5C455.7,413.9 457.2,417.2 458.1,418.1C459.0,419.0 461.4,419.3 462.5,420.0C463.6,420.7 466.4,423.5 467.5,424.4C468.6,425.3 471.0,427.4 471.9,428.1C472.8,428.8 474.8,429.9 475.6,430.6C476.4,431.3 477.9,433.6 478.8,434.4C479.6,435.2 481.6,436.9 482.5,437.5C483.4,438.1 485.4,438.5 486.2,439.4C487.1,440.3 489.0,444.1 490.0,445.0C491.0,445.9 494.0,446.7 495.0,447.5C496.0,448.3 497.9,450.7 498.8,451.9C499.6,453.1 501.1,456.1 501.9,457.5C502.7,458.9 504.8,462.3 505.6,463.8C506.4,465.2 508.0,468.5 508.8,470.0C509.5,471.5 511.1,475.0 511.9,476.2C512.7,477.5 514.7,479.7 515.6,480.6C516.5,481.5 518.9,483.1 520.0,483.8C521.1,484.4 523.8,485.5 525.0,486.2C526.2,487.0 528.8,489.0 530.0,490.0C531.2,491.0 533.8,493.7 535.0,495.0C536.2,496.3 538.8,500.3 540.0,501.5C541.2,502.7 543.8,505.0 545.0,505.6C546.2,506.2 548.8,506.4 550.0,506.6C551.2,506.8 554.4,507.4 555.6,507.2C556.8,507.1 559.6,505.8 560.6,505.0C561.6,504.2 563.2,501.1 563.8,500.6C564.3,500.1 565.0,500.3 565.6,500.4C566.2,500.5 567.9,501.5 568.8,501.2C569.6,501.0 571.6,499.1 572.5,498.1C573.4,497.1 575.4,494.2 576.2,493.1C577.1,492.0 579.1,489.1 580.0,488.5C580.9,487.9 582.9,488.4 583.8,488.1C584.6,487.8 586.5,486.7 587.5,486.2C588.5,485.8 591.5,484.8 592.5,484.4C593.5,484.0 595.4,483.6 596.2,483.1C597.1,482.6 599.1,480.8 600.0,480.0C600.9,479.2 602.9,477.4 603.8,476.2C604.6,475.1 606.6,471.6 607.5,470.0C608.4,468.4 610.4,463.8 611.2,462.5C612.1,461.2 614.1,459.0 615.0,458.5C615.9,458.0 617.9,458.5 618.8,458.1C619.6,457.7 621.5,456.1 622.5,455.0C623.5,453.9 626.5,450.1 627.5,448.8C628.5,447.4 630.5,444.6 631.2,443.1C632.0,441.6 633.2,437.8 633.8,436.2C634.3,434.7 635.6,431.5 636.2,430.0C636.9,428.5 638.8,424.6 639.4,423.1C640.0,421.6 640.8,419.5 641.2,417.5C641.7,415.5 642.6,408.9 643.1,406.2C643.6,403.6 645.1,397.3 645.6,395.0C646.1,392.7 647.1,388.4 647.5,386.2C647.9,384.1 648.9,378.6 649.4,376.2C649.9,373.9 651.3,368.3 651.9,366.2C652.5,364.2 653.7,360.1 654.4,358.8C655.1,357.4 656.8,355.4 657.5,354.4C658.2,353.4 659.5,351.8 660.0,350.6C660.5,349.4 661.5,345.4 662.0,344.0C662.5,342.6 663.5,340.1 664.0,339.0C664.5,337.9 665.5,336.2 666.2,335.0C667.0,333.8 669.3,329.9 670.0,328.8C670.7,327.6 671.8,325.5 672.5,324.8C673.2,324.0 675.3,323.1 676.2,322.5C677.2,321.9 679.7,320.3 680.6,319.4C681.5,318.5 683.1,316.4 683.8,315.0C684.4,313.6 685.7,309.2 686.2,307.5C686.8,305.8 687.7,301.5 688.1,300.0C688.5,298.5 689.5,295.9 690.0,295.0C690.5,294.1 691.9,292.8 692.5,292.5C693.1,292.2 694.1,292.7 695.0,292.2C695.9,291.8 699.0,290.2 700.0,289.0C701.0,287.8 703.4,283.1 704.0,282.0C704.6,280.9 704.7,280.4 705.0,279.4C705.3,278.4 706.3,274.6 706.9,273.8C707.5,272.9 709.3,272.5 710.0,271.9C710.7,271.3 712.4,270.1 713.1,268.8C713.8,267.4 714.9,261.5 715.6,260.0C716.3,258.5 718.0,257.3 718.8,256.2C719.5,255.2 721.2,252.3 721.9,251.2C722.6,250.2 724.3,249.0 725.0,247.5C725.7,246.0 727.4,240.4 728.1,238.8C728.8,237.1 730.5,234.6 731.2,233.1C732.0,231.6 733.7,227.8 734.4,226.2C735.1,224.7 736.2,221.4 736.9,220.0C737.6,218.6 739.3,215.5 740.0,214.4C740.7,213.3 742.5,211.3 743.1,210.6C743.7,209.9 744.7,209.0 745.0,208.8C745.3,208.5 745.7,208.9 746.0,208.6C746.3,208.3 747.0,206.7 747.5,206.2C748.0,205.8 749.3,205.1 750.0,205.0C750.7,204.9 753.0,205.3 753.8,205.2C754.5,205.2 755.5,204.8 756.2,204.4C757.0,204.0 760.0,202.2 760.5,201.9" fill="none" stroke="#0000ff" stroke-width="1.25" stroke-linejoin="round"/>
<path d="M74.0,194.4C74.6,193.7 77.8,190.0 78.8,188.8C79.7,187.5 81.6,184.6 82.5,183.8C83.4,182.9 85.5,181.8 86.2,181.2C87.0,180.7 88.1,180.0 88.8,179.4C89.4,178.8 91.3,176.7 92.0,176.5C92.7,176.3 94.3,178.1 95.0,178.0C95.7,177.9 97.1,176.6 98.0,175.6C98.9,174.6 101.4,170.6 102.5,169.4C103.6,168.2 106.3,166.5 107.5,165.6C108.7,164.7 111.0,162.9 112.5,162.0C114.0,161.1 118.5,158.8 120.0,158.0C121.5,157.2 123.9,155.2 125.0,154.8C126.1,154.3 128.5,153.7 129.4,153.8C130.3,153.8 131.4,155.4 132.5,155.6C133.6,155.8 137.4,156.0 138.8,155.6C140.1,155.2 142.4,153.4 143.8,152.5C145.1,151.6 148.7,149.0 150.0,147.5C151.3,146.0 153.8,141.2 155.0,140.0C156.2,138.8 159.1,137.7 160.0,137.5C160.9,137.3 161.8,138.5 162.5,138.1C163.2,137.7 165.4,134.8 166.2,133.8C167.1,132.7 169.3,129.5 170.0,128.8C170.7,128.0 171.9,127.0 172.5,127.2C173.1,127.5 174.4,130.3 175.0,131.2C175.6,132.2 176.8,134.4 177.5,135.0C178.2,135.6 180.4,135.8 181.2,136.2C182.1,136.7 184.3,138.2 185.0,138.5C185.7,138.8 186.8,138.9 187.5,138.5C188.2,138.1 190.4,135.7 191.2,135.0C192.1,134.3 194.1,132.9 195.0,132.5C195.9,132.1 197.9,132.3 198.8,131.9C199.6,131.5 201.7,130.0 202.5,129.4C203.3,128.8 205.0,127.3 205.6,126.9C206.2,126.5 206.8,125.5 207.5,125.6C208.2,125.7 210.4,127.3 211.2,128.1C212.1,128.9 214.2,131.7 215.0,132.5C215.8,133.3 217.3,134.7 218.1,135.0C218.9,135.3 221.1,135.4 221.9,135.2C222.7,135.1 224.3,133.4 225.0,133.8C225.7,134.1 227.4,137.0 228.1,138.1C228.8,139.2 230.4,142.3 231.2,143.1C232.1,143.9 234.1,144.6 235.0,145.0C235.9,145.4 238.1,146.1 238.8,146.9C239.4,147.7 240.1,150.8 240.6,151.9C241.1,153.0 242.4,155.2 243.1,156.2C243.8,157.3 245.4,159.6 246.2,160.6C247.1,161.6 249.1,164.0 250.0,165.0C250.9,166.0 252.9,168.6 253.8,169.4C254.6,170.2 255.9,172.2 256.9,172.2C257.9,172.3 261.3,170.2 262.5,170.2C263.7,170.3 266.5,172.3 267.5,173.1C268.5,173.9 270.2,176.0 271.2,176.9C272.3,177.8 275.1,179.7 276.2,180.6C277.4,181.5 280.2,184.4 281.2,185.0C282.3,185.6 284.0,185.7 285.0,185.6C286.0,185.5 289.0,183.9 290.0,184.0C291.0,184.1 292.9,185.2 293.8,186.2C294.6,187.3 296.6,191.7 297.5,193.1C298.4,194.5 300.4,197.0 301.2,198.1C302.1,199.2 304.0,201.5 305.0,202.5C306.0,203.5 308.8,205.4 310.0,206.2C311.2,207.1 313.8,209.2 315.0,210.0C316.2,210.8 319.1,212.6 320.0,213.1C320.9,213.6 322.5,214.0 323.1,214.4C323.7,214.8 324.4,216.0 325.0,216.9C325.6,217.8 327.4,221.3 328.1,222.5C328.8,223.7 330.4,226.0 331.2,226.9C332.1,227.8 334.1,229.1 335.0,230.0C335.9,230.9 337.9,233.6 338.8,234.4C339.6,235.2 341.8,236.3 342.5,236.9C343.2,237.5 344.3,239.1 345.0,239.4C345.7,239.7 347.3,239.3 348.1,239.8C348.9,240.2 350.9,242.2 351.9,243.1C352.9,244.0 355.4,246.4 356.2,247.5C357.1,248.6 358.7,251.4 359.4,252.5C360.1,253.6 361.2,256.1 361.9,256.9C362.6,257.7 364.7,258.7 365.6,259.4C366.5,260.1 369.0,261.7 370.0,262.5C371.0,263.3 373.4,265.4 374.4,266.2C375.4,267.1 377.8,268.9 378.8,269.4C379.7,269.9 381.7,270.5 382.5,270.6C383.3,270.7 384.9,270.2 385.6,270.2C386.3,270.3 387.4,270.7 388.1,271.2C388.8,271.8 390.5,273.9 391.2,275.0C392.0,276.1 393.7,279.4 394.4,280.6C395.1,281.8 396.7,283.9 397.5,285.0C398.3,286.1 400.4,288.8 401.2,290.0C402.1,291.2 404.2,293.8 405.0,295.0C405.8,296.2 407.4,298.7 408.1,300.0C408.8,301.3 410.7,305.2 411.2,306.2C411.8,307.3 412.8,308.7 413.1,309.4C413.4,310.1 413.2,311.4 413.8,312.5C414.3,313.6 416.6,317.3 417.5,318.8C418.4,320.2 420.4,323.5 421.2,325.0C422.1,326.5 424.2,329.6 425.0,331.2C425.8,332.9 427.5,337.1 428.1,338.8C428.7,340.4 429.5,343.5 430.0,345.0C430.5,346.5 431.8,349.9 432.5,351.2C433.2,352.6 434.8,355.1 435.6,356.2C436.4,357.4 438.5,360.1 439.4,361.2C440.3,362.4 442.4,365.1 443.1,366.2C443.8,367.4 445.1,370.2 445.6,371.2C446.1,372.3 447.1,374.3 447.5,375.0C447.9,375.7 448.2,376.5 448.8,377.5C449.3,378.5 451.2,382.3 451.9,383.8C452.6,385.2 454.3,388.5 455.0,390.0C455.7,391.5 457.4,395.2 458.1,396.2C458.8,397.3 459.9,397.6 460.6,398.8C461.3,399.9 462.9,404.5 463.8,406.2C464.6,408.0 466.7,412.2 467.5,413.8C468.3,415.3 469.8,418.2 470.6,419.4C471.4,420.6 473.5,422.8 474.4,423.8C475.3,424.7 477.3,426.5 478.1,427.5C478.9,428.5 480.5,431.3 481.2,432.5C482.0,433.7 483.9,436.7 484.4,437.5C484.9,438.3 485.2,438.7 485.6,439.4C486.0,440.1 487.4,442.5 488.1,443.8C488.8,445.0 490.4,448.4 491.2,450.0C492.1,451.6 494.1,455.9 495.0,457.5C495.9,459.1 497.7,462.5 498.8,463.8C499.8,465.0 502.6,467.1 503.8,468.1C504.9,469.1 507.4,471.5 508.8,472.5C510.1,473.5 513.5,475.5 515.0,476.2C516.5,477.0 519.8,478.3 521.2,478.8C522.7,479.2 526.2,479.6 527.5,480.0C528.8,480.4 531.3,481.9 532.5,482.5C533.7,483.1 536.3,484.9 537.5,485.2C538.7,485.6 541.3,485.6 542.5,485.6C543.7,485.6 546.3,485.1 547.5,485.2C548.7,485.4 551.3,486.3 552.5,486.9C553.7,487.5 556.2,489.3 557.5,490.0C558.8,490.7 562.6,492.4 563.8,492.5C564.9,492.6 566.6,491.2 567.5,490.6C568.4,490.0 570.4,488.2 571.2,487.5C572.1,486.8 574.1,485.6 575.0,485.0C575.9,484.4 577.9,483.1 578.8,482.5C579.6,481.9 581.6,480.6 582.5,480.0C583.4,479.4 585.2,478.2 586.2,477.5C587.3,476.8 590.1,474.4 591.2,473.8C592.4,473.1 595.2,472.5 596.2,471.9C597.3,471.3 599.1,469.1 600.0,468.8C600.9,468.4 603.2,468.5 603.8,468.5C604.3,468.5 604.4,469.0 605.0,468.4C605.6,467.8 607.8,464.9 608.8,463.8C609.7,462.6 612.1,460.1 613.1,458.8C614.1,457.4 616.5,453.6 617.5,451.9C618.5,450.1 620.4,445.7 621.2,443.8C622.1,441.8 624.1,437.0 625.0,435.0C625.9,433.0 627.9,427.9 628.8,426.2C629.6,424.6 631.3,422.1 631.9,420.6C632.5,419.1 633.4,415.3 633.8,413.8C634.1,412.2 634.6,409.2 635.0,407.5C635.4,405.8 636.5,400.8 636.9,398.8C637.3,396.7 638.3,391.9 638.8,390.0C639.2,388.1 640.1,384.2 640.6,382.5C641.1,380.8 642.5,376.8 643.1,375.0C643.7,373.2 644.9,369.2 645.6,367.5C646.3,365.8 648.1,361.6 648.8,360.0C649.4,358.4 650.6,355.4 651.2,353.8C651.9,352.1 653.9,347.8 654.7,346.0C655.5,344.2 657.4,340.4 658.4,338.5C659.4,336.6 662.0,331.7 663.1,330.0C664.2,328.3 666.5,325.3 667.5,323.8C668.5,322.2 670.4,318.1 671.2,316.9C672.1,315.7 674.3,314.6 675.0,313.8C675.7,312.9 676.9,311.1 677.5,310.0C678.1,308.9 679.3,305.7 680.0,304.4C680.7,303.1 682.9,300.0 683.8,298.8C684.6,297.5 686.6,294.9 687.5,293.8C688.4,292.6 690.4,289.8 691.2,288.8C692.1,287.7 694.4,285.6 695.0,285.0C695.6,284.4 695.5,284.7 696.0,284.0C696.5,283.3 698.6,280.6 699.4,279.4C700.2,278.2 701.7,274.7 702.5,273.8C703.3,272.8 705.5,272.1 706.2,271.2C707.0,270.4 708.2,267.6 708.8,266.2C709.3,264.9 710.6,261.6 711.2,260.0C711.9,258.4 713.7,254.2 714.4,252.5C715.1,250.8 716.2,246.5 716.9,245.0C717.6,243.5 719.2,241.2 720.0,240.0C720.8,238.8 722.9,236.2 723.8,235.0C724.6,233.8 726.6,231.2 727.5,230.0C728.4,228.8 730.4,225.2 731.2,224.4C732.1,223.6 733.8,223.7 734.4,223.5C735.0,223.3 735.7,223.3 736.2,222.5C736.8,221.7 738.1,218.1 738.8,216.9C739.4,215.7 741.2,213.5 741.9,212.5C742.6,211.5 744.3,209.9 745.0,208.8C745.7,207.6 747.4,203.7 748.1,202.5C748.8,201.3 750.6,198.7 751.2,198.1C751.9,197.5 753.0,197.3 753.8,197.2C754.5,197.2 756.7,197.8 757.5,197.5C758.3,197.2 760.1,195.3 760.5,195.0" fill="none" stroke="#ff00ff" stroke-width="1.25" stroke-linejoin="round"/>
<path d="M74.0,200.0C74.8,199.1 79.7,194.2 81.2,192.5C82.8,190.8 86.2,186.7 87.5,185.6C88.8,184.5 91.2,183.7 92.5,183.0C93.8,182.3 97.3,181.2 98.8,180.0C100.2,178.8 103.7,173.9 105.0,173.0C106.3,172.1 108.2,172.5 110.0,171.9C111.8,171.3 118.2,168.2 120.0,167.5C121.8,166.8 123.9,166.3 125.0,166.2C126.1,166.2 128.5,167.7 129.4,167.2C130.3,166.8 131.7,163.3 132.5,162.0C133.3,160.7 135.2,157.4 136.2,156.2C137.3,155.1 140.2,153.3 141.2,152.5C142.3,151.7 144.0,149.5 145.0,149.8C146.0,150.0 149.1,154.9 150.0,155.0C150.9,155.1 152.1,151.9 153.0,150.6C153.9,149.3 156.3,144.1 157.5,143.8C158.7,143.4 162.0,147.9 163.0,148.0C164.0,148.1 165.4,145.7 166.2,145.0C167.1,144.3 169.1,142.4 170.0,141.9C170.9,141.4 172.9,141.1 173.8,141.0C174.6,140.9 176.6,141.3 177.5,141.0C178.4,140.7 180.4,138.9 181.2,138.1C182.1,137.3 184.0,135.2 185.0,134.4C186.0,133.6 189.0,131.5 190.0,131.2C191.0,131.0 193.2,132.4 193.8,132.5C194.3,132.6 194.4,132.1 195.0,132.5C195.6,132.9 197.9,135.1 198.8,135.6C199.6,136.1 201.6,136.4 202.5,136.9C203.4,137.4 205.2,139.3 206.2,140.0C207.3,140.7 210.1,142.2 211.2,142.5C212.4,142.8 215.1,142.6 216.2,142.8C217.4,142.9 220.1,143.7 221.2,144.0C222.4,144.3 225.3,145.0 226.2,145.0C227.2,145.0 228.7,144.1 229.4,143.8C230.1,143.4 231.7,142.0 232.5,141.9C233.3,141.8 235.4,142.7 236.2,143.1C237.1,143.5 239.0,144.9 240.0,145.6C241.0,146.3 243.8,148.6 245.0,149.4C246.2,150.2 248.7,152.1 250.0,152.8C251.3,153.4 254.6,154.5 256.2,154.8C257.9,155.0 262.1,154.9 263.8,155.2C265.4,155.6 268.5,156.9 270.0,157.5C271.5,158.1 274.8,159.8 276.2,160.6C277.7,161.4 281.0,163.4 282.5,164.4C284.0,165.4 287.3,167.7 288.8,168.8C290.2,169.8 293.7,172.1 295.0,173.1C296.3,174.1 298.9,176.5 300.0,177.2C301.1,178.0 303.5,179.5 304.4,179.8C305.3,180.0 307.3,179.5 308.1,179.4C308.9,179.3 310.5,178.6 311.2,179.0C312.0,179.4 313.7,181.8 314.4,182.8C315.1,183.7 316.2,186.1 316.9,186.9C317.6,187.7 319.7,189.2 320.6,190.0C321.5,190.8 324.0,192.7 325.0,193.8C326.0,194.8 327.9,198.2 328.8,199.4C329.6,200.6 331.0,203.0 331.9,203.8C332.8,204.5 335.2,205.3 336.2,206.2C337.3,207.2 340.2,210.5 341.2,211.9C342.3,213.3 344.3,216.7 345.0,218.1C345.7,219.5 346.9,222.7 347.5,223.8C348.1,224.8 349.3,226.4 350.0,226.9C350.7,227.4 352.2,227.4 353.1,228.1C354.0,228.8 356.8,231.9 357.5,232.5C358.2,233.1 358.0,232.9 358.8,233.5C359.5,234.1 362.7,236.8 363.8,237.5C364.8,238.2 366.6,238.7 367.5,239.4C368.4,240.1 370.2,242.9 371.2,243.8C372.3,244.6 375.2,246.0 376.2,246.9C377.3,247.8 379.1,250.2 380.0,251.2C380.9,252.3 382.9,255.1 383.8,256.2C384.6,257.4 386.5,260.3 387.5,261.2C388.5,262.2 391.0,263.7 391.9,264.4C392.8,265.1 394.3,266.6 395.0,267.5C395.7,268.4 396.9,271.5 397.5,272.5C398.1,273.5 399.3,275.4 400.0,276.2C400.7,277.1 402.4,278.4 403.1,279.4C403.8,280.4 405.0,283.6 405.6,285.0C406.2,286.4 407.4,289.8 408.1,291.2C408.8,292.7 410.5,296.0 411.2,297.5C412.0,299.0 413.7,302.4 414.4,303.8C415.1,305.1 416.5,307.9 416.9,308.8C417.3,309.6 417.7,310.6 418.0,311.0C418.3,311.4 418.8,311.6 419.4,312.5C420.0,313.4 422.3,317.4 423.1,318.8C423.9,320.1 425.3,322.7 426.2,323.8C427.2,324.8 430.2,327.1 431.2,328.1C432.3,329.1 434.2,331.4 435.0,332.5C435.8,333.6 437.5,336.3 438.1,337.5C438.7,338.7 439.4,341.3 440.0,342.5C440.6,343.7 442.3,346.9 443.1,348.1C443.9,349.3 446.1,352.1 446.9,353.1C447.7,354.1 449.4,355.8 450.0,356.9C450.6,358.0 451.4,361.2 451.9,362.5C452.4,363.8 453.7,366.9 454.4,368.1C455.1,369.3 456.8,371.7 457.5,372.5C458.2,373.3 459.6,374.6 460.0,375.0C460.4,375.4 460.0,375.7 460.6,376.2C461.2,376.8 464.1,378.8 465.0,380.0C465.9,381.2 467.4,384.8 468.1,386.2C468.8,387.7 470.5,391.3 471.2,392.5C472.0,393.7 473.5,396.0 474.4,396.9C475.3,397.8 478.0,399.5 478.8,400.6C479.5,401.7 480.7,404.8 481.2,406.2C481.8,407.7 483.1,411.8 483.8,413.1C484.4,414.4 486.2,416.7 486.9,417.5C487.6,418.3 489.3,419.1 490.0,420.0C490.7,420.9 492.4,424.2 493.1,425.6C493.8,427.0 495.5,430.4 496.2,431.9C497.0,433.4 498.8,437.6 499.4,438.8C500.0,439.9 500.6,441.4 501.0,442.0C501.4,442.6 501.7,442.9 502.5,443.8C503.3,444.6 506.3,448.0 507.5,449.4C508.7,450.8 511.4,454.2 512.5,455.6C513.6,457.0 515.7,460.1 516.9,461.2C518.1,462.4 521.3,464.6 522.5,465.6C523.7,466.6 526.3,469.0 527.5,470.0C528.7,471.0 531.3,472.9 532.5,473.8C533.7,474.6 536.3,476.2 537.5,476.9C538.7,477.6 541.3,479.4 542.5,480.0C543.7,480.6 546.3,481.7 547.5,482.2C548.7,482.8 551.3,484.0 552.5,484.4C553.7,484.8 556.3,485.0 557.5,485.2C558.7,485.5 561.3,486.3 562.5,486.2C563.7,486.2 566.3,485.1 567.5,484.8C568.7,484.4 571.9,483.6 572.5,483.4" fill="none" stroke="#ff0000" stroke-width="2.2" stroke-linejoin="round"/>
</g>
<text x="559 569 579 589 599 603 611 616 627 636 646 653 663 673" y="87.2" font-size="16">1980's Average</text>
<path d="M693,81.5H740.5" stroke="#999999" stroke-width="1" stroke-dasharray="8.6 3.5 2.6 3.4" fill="none"/>
<text x="559 569 579 589 599 603 611 616 627 636 646 653 663 673" y="106.2" font-size="16">1990's Average</text>
<path d="M693,100.5H740.5" stroke="#555555" stroke-width="1" stroke-dasharray="8.6 3.5 2.6 3.4" fill="none"/>
<text x="559 569 579 589 599 603 611 616 627 636 646 653 663 673" y="125.2" font-size="16">2000's Average</text>
<path d="M693,119.5H740.5" stroke="#1c1c1c" stroke-width="1" stroke-dasharray="8.6 3.5 2.6 3.4" fill="none"/>
<text x="559 569 579 589 599 603 611 616 627 636 646 653 663 673" y="144.2" font-size="16">2010's Average</text>
<path d="M693,138.5H740.5" stroke="#000000" stroke-width="1" stroke-dasharray="8.6 3.5 2.6 3.4" fill="none"/>
<text x="541 551 561 571 581 586 592 602 610 616 621 630 640 653 663 671 677" y="163.2" font-size="16">2012 (1st Lowest)</text>
<path d="M693,157.5H740.5" stroke="#00ff00" stroke-width="1" fill="none"/>
<text x="535 545 555 565 575 580 586 596 606 616 621 630 640 653 663 671 677" y="182.2" font-size="16">2020 (2nd Lowest)</text>
<path d="M693,176.5H740.5" stroke="#0000ff" stroke-width="1" fill="none"/>
<text x="538 548 558 568 578 583 589 599 606 616 621 630 640 653 663 671 677" y="201.2" font-size="16">2019 (3rd Lowest)</text>
<path d="M693,195.5H740.5" stroke="#ff00ff" stroke-width="1" fill="none"/>
<text x="643 653 663 673" y="220.2" font-size="16">2023</text>
<path d="M693,214.5H740.5" stroke="#ff0000" stroke-width="2" fill="none"/>
<path d="M74.5,64.5H760.5V562.5H74.5ZM132.5,562.5v-7.3M132.5,64.5v7.3M187.5,562.5v-7.3M187.5,64.5v7.3M245.5,562.5v-7.3M245.5,64.5v7.3M302.5,562.5v-7.3M302.5,64.5v7.3M360.5,562.5v-7.3M360.5,64.5v7.3M416.5,562.5v-7.3M416.5,64.5v7.3M475.5,562.5v-7.3M475.5,64.5v7.3M533.5,562.5v-7.3M533.5,64.5v7.3M589.5,562.5v-7.3M589.5,64.5v7.3M648.5,562.5v-7.3M648.5,64.5v7.3M704.5,562.5v-7.3M704.5,64.5v7.3M74.5,135.5h7.3M760.5,135.5h-7.3M74.5,206.5h7.3M760.5,206.5h-7.3M74.5,277.5h7.3M760.5,277.5h-7.3M74.5,348.5h7.3M760.5,348.5h-7.3M74.5,420.5h7.3M760.5,420.5h-7.3M74.5,491.5h7.3M760.5,491.5h-7.3" fill="none" stroke="#000" stroke-width="1"/>
<text x="62.4 67.4 77.4" y="588" font-size="16">Jan</text>
<text x="118.4 127.4 137.4" y="588" font-size="16">Feb</text>
<text x="172.4 186.4 196.4" y="588" font-size="16">Mar</text>
<text x="231.9 242.9 252.9" y="588" font-size="16">Apr</text>
<text x="286.4 300.4 310.4" y="588" font-size="16">May</text>
<text x="348.4 353.4 363.4" y="588" font-size="16">Jun</text>
<text x="407.4 412.4 422.4" y="588" font-size="16">Jul</text>
<text x="460.4 471.4 481.4" y="588" font-size="16">Aug</text>
<text x="518.9 528.9 538.9" y="588" font-size="16">Sep</text>
<text x="575.9 588.9 597.9" y="588" font-size="16">Oct</text>
<text x="633.4 645.4 655.4" y="588" font-size="16">Nov</text>
<text x="689.4 701.4 711.4" y="588" font-size="16">Dec</text>
<text x="44 54" y="141.5" font-size="16">14</text>
<text x="44 54" y="212.5" font-size="16">12</text>
<text x="44 54" y="283.5" font-size="16">10</text>
<text x="54" y="354.5" font-size="16">8</text>
<text x="54" y="426.5" font-size="16">6</text>
<text x="54" y="497.5" font-size="16">4</text>
<text x="44 54" y="69.5" font-size="16">16</text>
<text x="54" y="568.5" font-size="16">2</text>
<text x="269.8 284.8 293.8 305.8 313.8 319.8 331.8 338.8 352.8 365.8 378.8 385.8 391.8 403.8 416.8 423.8 436.8 449.8 457.8 470.8 484.8 492.8 499.8 516.8 525.8 538.8 552.8" y="37" font-size="21.33">Arctic Sea Ice Extent Graph</text>
<text x="720.2 728.2 736.2 744.2 752.2 756.2 764.2 772.2 776.2 784.2" y="12" font-size="13.33">2023/09/24</text>
<text x="109 115 130 145 160 168 184 190 203 218 226 241 257" y="530.5" font-size="21.33">JAXA-NiPR-ADS</text>
<text transform="translate(21,313.4) rotate(-90)" font-size="16"><tspan x="-101 -91 -81 -71 -66 -61 -52 -42 -37 -27 -18 -12 -2 8 14 19 25 34 44" y="0" font-size="16">Sea Ice Extent [x10</tspan><tspan x="54" y="-6" font-size="12.8">6</tspan><tspan x="62 71" y="0" font-size="16">km</tspan><tspan x="87" y="-6" font-size="12.8">2</tspan><tspan x="95" y="0" font-size="16">]</tspan></text>
</svg></body></html>
